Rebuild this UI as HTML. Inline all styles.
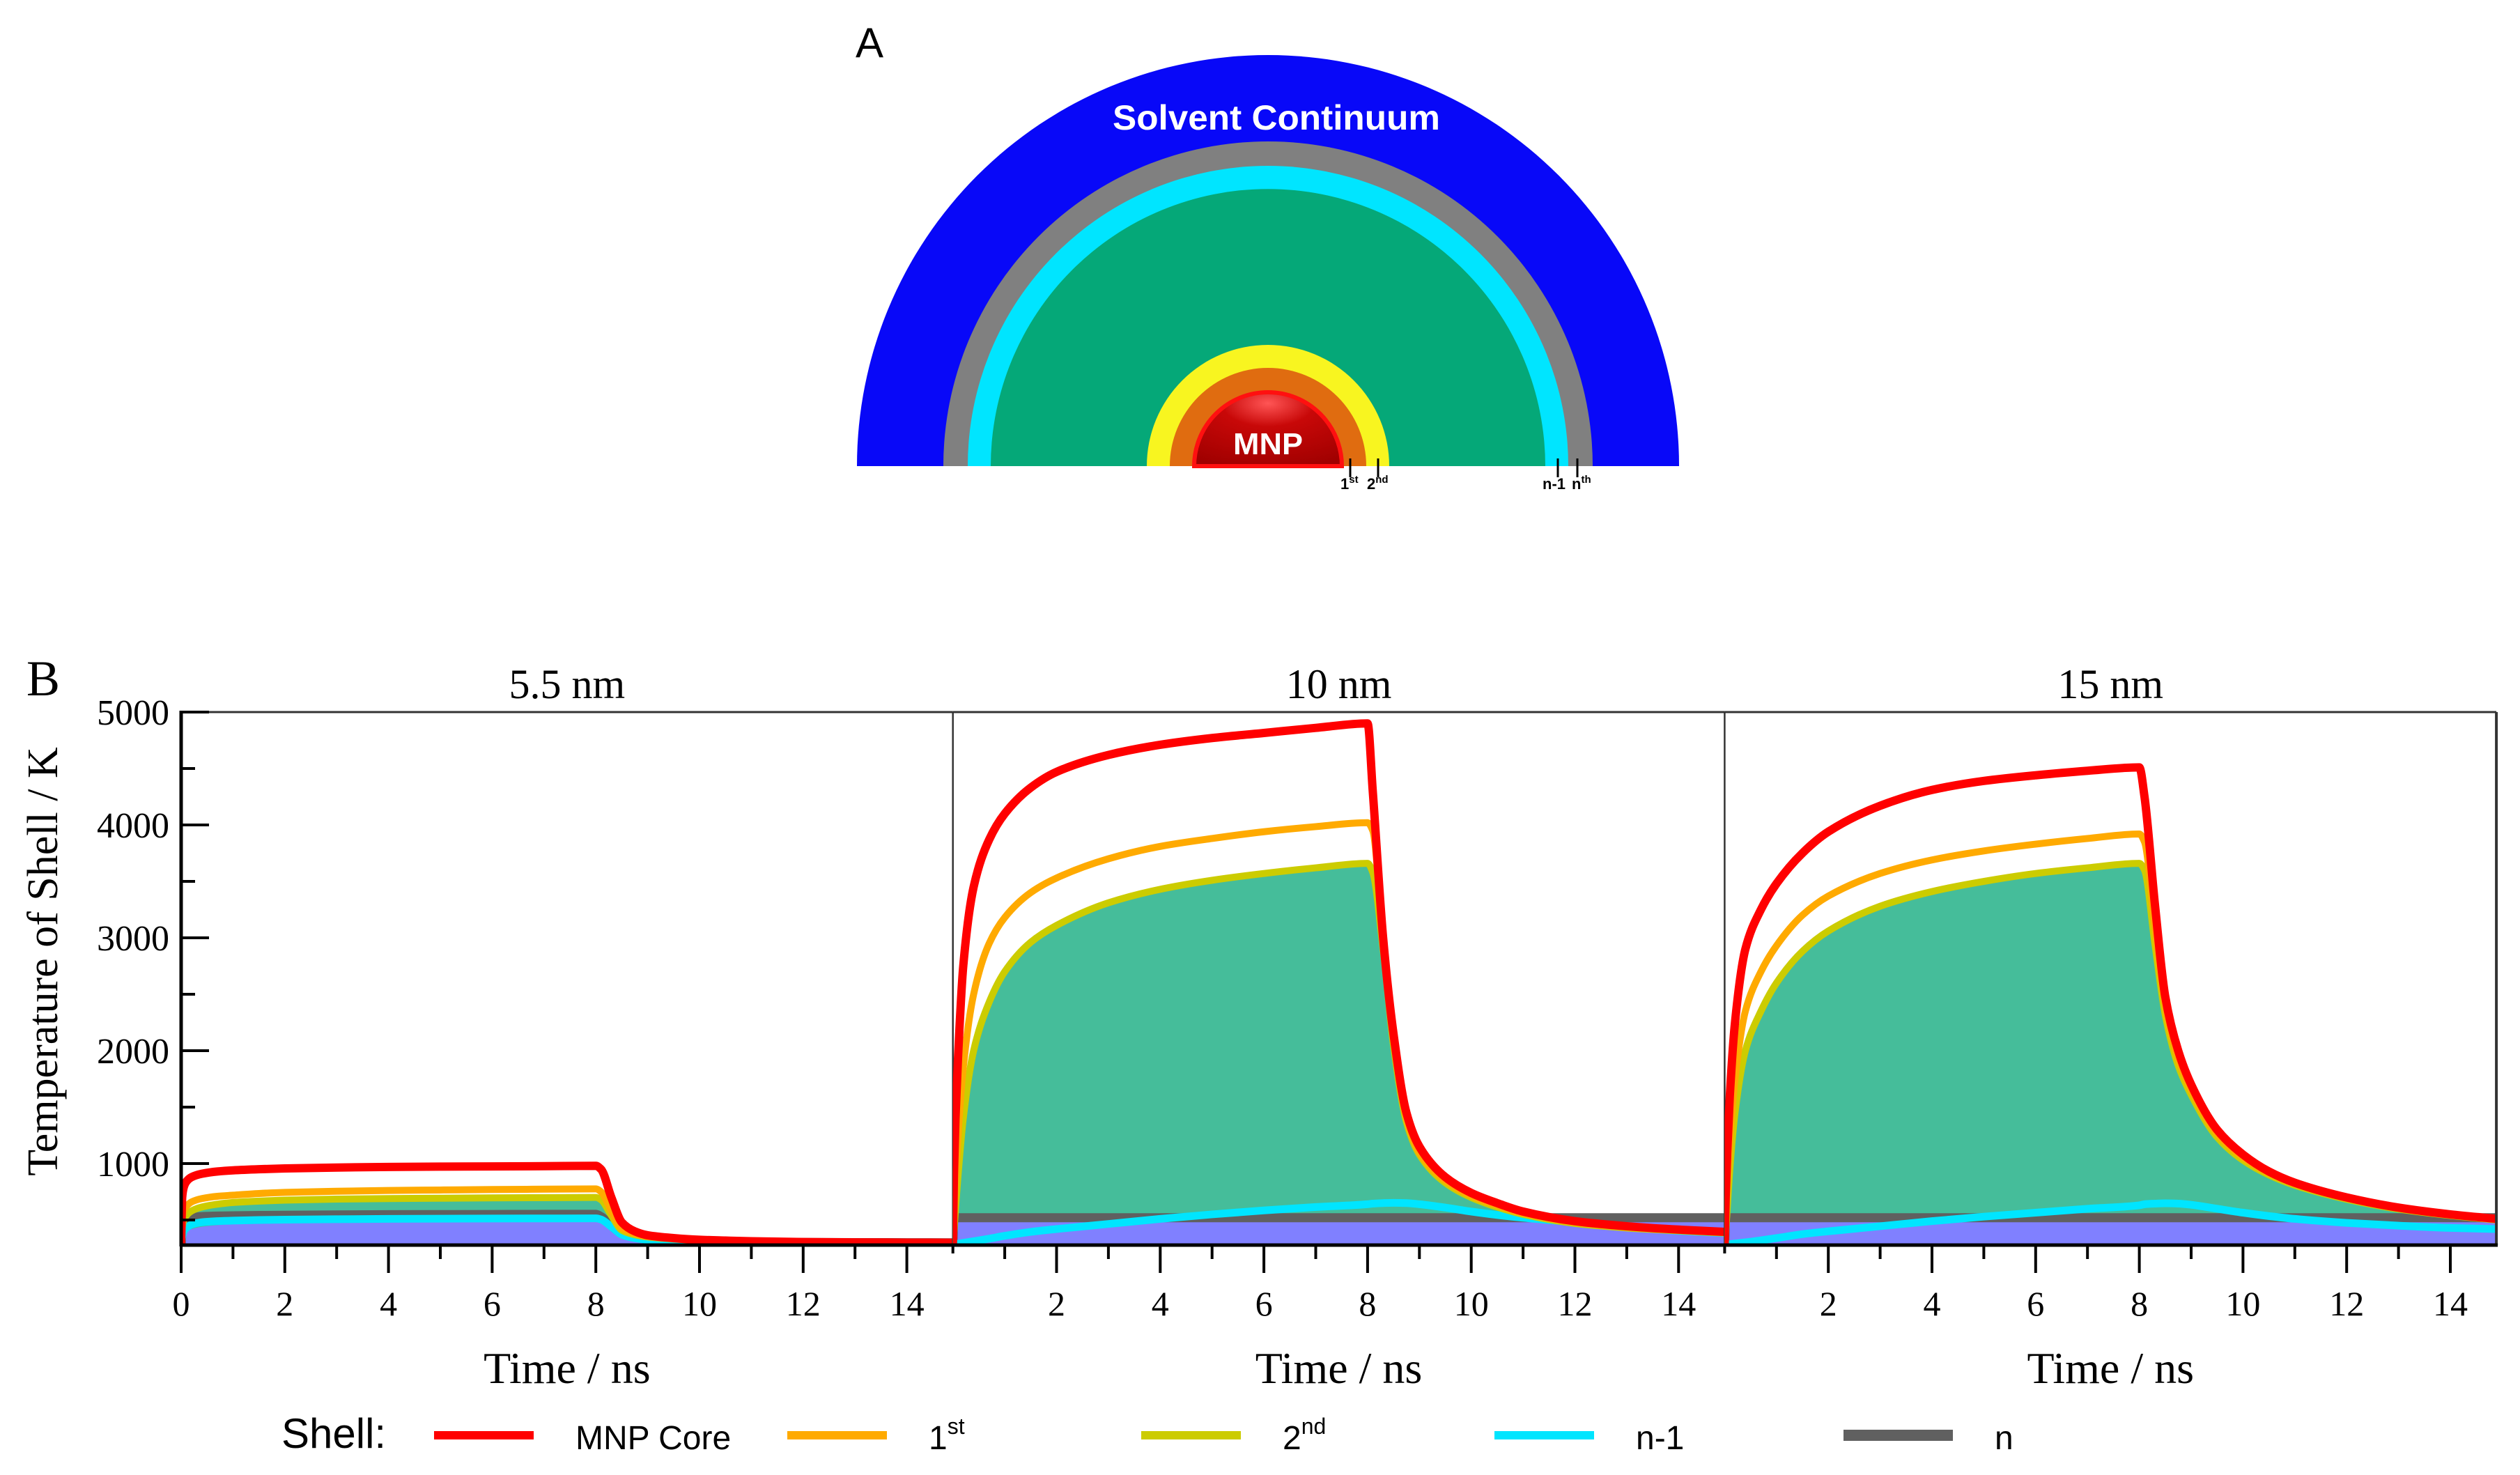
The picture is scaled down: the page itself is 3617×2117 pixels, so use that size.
<!DOCTYPE html>
<html><head><meta charset="utf-8">
<style>
html,body{margin:0;padding:0;background:#fff;}
svg{display:block;}
</style></head>
<body>
<svg id="fig" width="3617" height="2117" viewBox="0 0 3617 2117" xmlns="http://www.w3.org/2000/svg">
  <defs>
    <radialGradient id="ballGrad" cx="0.5" cy="0.15" r="0.9">
      <stop offset="0" stop-color="#ff5555"/>
      <stop offset="0.35" stop-color="#c80808"/>
      <stop offset="1" stop-color="#a00000"/>
    </radialGradient>
  </defs>
  <g id="panelA">
    <text x="1228" y="82" font-family="Liberation Sans, sans-serif" font-size="60">A</text>
    <path d="M1230,669 A590,590 0 0 1 2410,669 Z" fill="#0808f8"/>
    <path d="M1354,669 A466,466 0 0 1 2286,669 Z" fill="#808080"/>
    <path d="M1389,669 A431,431 0 0 1 2251,669 Z" fill="#00e5ff"/>
    <path d="M1422,669 A398,398 0 0 1 2218,669 Z" fill="#05a878"/>
    <path d="M1646,669 A174,174 0 0 1 1994,669 Z" fill="#f8f520"/>
    <path d="M1679,669 A141,141 0 0 1 1961,669 Z" fill="#e06c10"/>
    <path d="M1714,669 A106,106 0 0 1 1926,669 Z" fill="url(#ballGrad)" stroke="#ff1010" stroke-width="6"/>
    <text x="1832" y="186" text-anchor="middle" font-family="Liberation Sans, sans-serif" font-weight="bold" font-size="50" fill="#fff" textLength="470" lengthAdjust="spacingAndGlyphs">Solvent Continuum</text>
    <text x="1820" y="652" text-anchor="middle" font-family="Liberation Sans, sans-serif" font-weight="bold" font-size="44" fill="#fff" textLength="100" lengthAdjust="spacingAndGlyphs">MNP</text>
    <g stroke="#000" stroke-width="3">
      <line x1="1938" y1="658" x2="1938" y2="685"/>
      <line x1="1978" y1="658" x2="1978" y2="685"/>
      <line x1="2236" y1="658" x2="2236" y2="685"/>
      <line x1="2264" y1="658" x2="2264" y2="685"/>
    </g>
    <g font-family="Liberation Sans, sans-serif" font-weight="bold" font-size="22" fill="#000">
      <text x="1924" y="702">1<tspan font-size="15" dy="-9">st</tspan></text>
      <text x="1962" y="702">2<tspan font-size="15" dy="-9">nd</tspan></text>
      <text x="2214" y="702">n-1</text>
      <text x="2256" y="702">n<tspan font-size="15" dy="-9">th</tspan></text>
    </g>
  </g>
  <g id="panelB"></g>
</svg>
<script>
// ---- data ----
const times = [0,0.02,0.05,0.1,0.2,0.4,0.7,1,1.5,2,3,4,5,6,7,8,8.1,8.3,8.5,8.75,9,9.5,10,10.5,11,12,13,14,14.9];
const panelTitles = ["5.5 nm","10 nm","15 nm"];
// 5.5 nm
const core55  = [280,700,790,840,880,910,930,940,950,957,965,970,973,975,977,980,950,700,480,400,365,340,325,318,312,305,302,300,299];
const first55 = [280,500,580,620,660,690,710,720,735,745,755,762,766,770,773,776,750,580,430,380,355,335,322,316,311,305,302,300,299];
const second55= [280,430,500,540,580,615,640,655,668,676,685,690,693,696,698,700,680,540,410,370,350,332,320,315,310,304,301,300,299];
const nm1_55  = [280,350,400,430,460,480,490,495,500,503,507,510,512,513,514,515,505,440,370,340,325,315,308,305,303,301,300,299,298];
const n55     = [280,420,470,500,520,530,535,537,540,542,545,547,548,549,550,550,530,450,380,350,330,318,310,306,303,301,300,299,298];
const solv55  = [280,330,370,400,420,440,455,463,470,475,480,483,485,487,488,490,480,420,360,335,320,312,306,303,301,300,299,298,297];
// 10 nm
const core10  = [280,900,1400,1950,2750,3450,3870,4100,4330,4470,4620,4710,4770,4815,4860,4900,4300,3000,2150,1450,1150,880,740,650,575,490,445,415,395];
const first10 = [280,500,800,1250,1850,2500,2950,3180,3400,3530,3700,3810,3880,3940,3985,4020,3950,2950,2100,1400,1100,850,715,630,560,480,437,410,390];
const second10= [280,400,600,900,1400,2000,2430,2700,2960,3110,3310,3430,3510,3570,3620,3660,3580,2900,2050,1370,1080,830,700,615,550,470,430,405,385];
const nm1_10  = [280,282,285,290,298,312,335,360,395,420,465,510,550,585,615,640,645,650,652,650,640,610,575,545,520,480,440,405,385];
const n10     = [280,520,520,520,520,520,520,520,520,520,520,520,520,520,520,520,520,520,520,520,520,520,520,520,520,520,520,520,520];
const solv10  = [280,483,483,483,483,483,483,483,483,483,483,483,483,483,483,483,483,483,483,483,483,483,483,483,483,483,483,483,483];
// 15 nm
const core15  = [280,700,1100,1600,2250,2900,3250,3480,3750,3940,4170,4310,4390,4440,4480,4510,4250,3300,2480,2000,1700,1300,1080,930,830,700,610,550,510];
const first15 = [280,500,800,1200,1750,2350,2700,2930,3200,3370,3570,3690,3770,3830,3880,3920,3850,3100,2400,1930,1650,1265,1055,915,820,692,603,544,505];
const second15= [280,400,600,950,1450,2000,2350,2600,2880,3060,3280,3410,3500,3570,3620,3660,3600,2950,2320,1870,1610,1235,1030,900,808,684,597,540,500];
const nm1_15  = [280,281,283,286,292,302,320,340,375,400,445,490,530,565,600,630,640,645,648,645,635,600,565,535,510,475,450,430,420];
const n15     = [280,520,520,520,520,520,520,520,520,520,520,520,520,520,520,520,520,520,520,520,520,520,520,520,520,520,520,520,520];
const solv15  = [280,483,483,483,483,483,483,483,483,483,483,483,483,483,483,483,483,483,483,483,483,483,483,483,483,483,483,483,483];
const yTicks = [1000,2000,3000,4000,5000];
const xTickLabels = [0,2,4,6,8,10,12,14];

const panels = [
  {core:core55,first:first55,second:second55,nm1:nm1_55,n:n55,solv:solv55},
  {core:core10,first:first10,second:second10,nm1:nm1_10,n:n10,solv:solv10},
  {core:core15,first:first15,second:second15,nm1:nm1_15,n:n15,solv:solv15}
];

// ---- layout ----
const NS='http://www.w3.org/2000/svg';
const root=document.getElementById('panelB');
const P0=260, PW=1107.7, TOP=1022, BOT=1787, PXNS=74.4, YMIN=278, YMAX=5000;
const yScale=v=>BOT-(v-YMIN)/(YMAX-YMIN)*(BOT-TOP);
const xScale=(p,t)=>P0+p*PW+t*PXNS;
function mk(tag,attrs,parent){const e=document.createElementNS(NS,tag);for(const k in attrs)e.setAttribute(k,attrs[k]);(parent||root).appendChild(e);return e;}
// monotone cubic (Fritsch-Carlson) path
function linePath(p,arr){
  const xs=times.map(t=>xScale(p,t)), ys=arr.map(yScale), n=xs.length;
  const d=[],m=new Array(n);
  for(let i=0;i<n-1;i++)d.push((ys[i+1]-ys[i])/(xs[i+1]-xs[i]));
  m[0]=d[0];m[n-1]=d[n-2];
  for(let i=1;i<n-1;i++){
    if(d[i-1]*d[i]<=0)m[i]=0;
    else{const w1=2*(xs[i+1]-xs[i])+(xs[i]-xs[i-1]),w2=(xs[i+1]-xs[i])+2*(xs[i]-xs[i-1]);m[i]=(w1+w2)/(w1/d[i-1]+w2/d[i]);}
  }
  let s='M'+xs[0].toFixed(1)+','+ys[0].toFixed(1);
  for(let i=0;i<n-1;i++){
    const h=xs[i+1]-xs[i];
    s+=' C'+(xs[i]+h/3).toFixed(2)+','+(ys[i]+m[i]*h/3).toFixed(2)+' '+(xs[i+1]-h/3).toFixed(2)+','+(ys[i+1]-m[i+1]*h/3).toFixed(2)+' '+xs[i+1].toFixed(2)+','+ys[i+1].toFixed(2);
  }
  return s;
}
function areaPath(p,arr){return linePath(p,arr)+' L'+xScale(p,times[times.length-1]).toFixed(1)+','+BOT+' L'+xScale(p,0).toFixed(1)+','+BOT+' Z';}

panels.forEach((d,p)=>{
  const g=mk('g',{});
  
  
  const cp=mk('clipPath',{id:'clip'+p},g);
  mk('rect',{x:xScale(p,0),y:TOP-20,width:PW,height:BOT-TOP+20},cp);
  const inner=mk('g',{'clip-path':'url(#clip'+p+')'},g);
  let e;
  e=mk('path',{d:areaPath(p,d.second),fill:'#45bd9a'},inner);
  
  
  e=mk('path',{d:areaPath(p,d.solv),fill:'#8080ff'},inner);
  
  
  e=mk('path',{d:linePath(p,d.n),fill:'none',stroke:'#606060','stroke-width':13},inner);
  
  
  e=mk('path',{d:linePath(p,d.nm1),fill:'none',stroke:'#00e5ff','stroke-width':11},inner);
  
  
  e=mk('path',{d:linePath(p,d.second),fill:'none',stroke:'#cccc00','stroke-width':10,'stroke-linejoin':'round'},inner);
  
  
  e=mk('path',{d:linePath(p,d.first),fill:'none',stroke:'#ffaa00','stroke-width':10,'stroke-linejoin':'round'},inner);
  
  
  e=mk('path',{d:linePath(p,d.core),fill:'none',stroke:'#ff0000','stroke-width':12,'stroke-linejoin':'round'},inner);
  
  
  // frame
  const x0=xScale(p,0), x1=x0+PW;
  e=mk('line',{x1:x0,y1:TOP,x2:x1,y2:TOP,stroke:'#333','stroke-width':3},g);
  
  
  e=mk('line',{x1:x1,y1:TOP,x2:x1,y2:BOT,stroke:'#333','stroke-width':p==2?4:2.5},g);
  
  
  e=mk('line',{x1:x0-2,y1:BOT,x2:x1+2,y2:BOT,stroke:'#000','stroke-width':5},g);
  
  
  for(let t=0;t<=14;t++){
    const major=t%2===0;
    const len=(t===0&&p>0)?12:(major?40:20);
    e=mk('line',{x1:xScale(p,t),y1:BOT,x2:xScale(p,t),y2:BOT+len,stroke:'#000','stroke-width':4},g);
    
    
  }
  xTickLabels.forEach(t=>{
    if(t===0&&p>0)return;
    e=mk('text',{x:xScale(p,t),y:1888,'text-anchor':'middle','font-family':'Liberation Serif, serif','font-size':50},g);
    e.textContent=t;
    
    
  });
  e=mk('text',{x:x0+PW/2,y:1985,'text-anchor':'middle','font-family':'Liberation Serif, serif','font-size':64},g);
  e.textContent='Time / ns';
  
  
  e=mk('text',{x:x0+PW/2,y:1002,'text-anchor':'middle','font-family':'Liberation Serif, serif','font-size':60},g);
  e.textContent=panelTitles[p];
  
  
});
// y axis
let ya=mk('line',{x1:P0,y1:TOP-2,x2:P0,y2:BOT+2,stroke:'#000','stroke-width':5});


for(let v=500;v<=5000;v+=500){
  const major=v%1000===0;
  const e=mk('line',{x1:P0,y1:yScale(v),x2:P0+(major?40:20),y2:yScale(v),stroke:'#000','stroke-width':4});
  
  
}
yTicks.forEach(v=>{
  const e=mk('text',{x:243,y:yScale(v)+18,'text-anchor':'end','font-family':'Liberation Serif, serif','font-size':52});
  e.textContent=v;
  
  
});
let yt=mk('text',{x:0,y:0,'text-anchor':'middle','font-family':'Liberation Serif, serif','font-size':62,transform:'translate(82,1380) rotate(-90)'});
yt.textContent='Temperature of Shell / K';


let bl=mk('text',{x:38,y:998,'font-family':'Liberation Serif, serif','font-size':72});
bl.textContent='B';



// legend
const lg=mk('g',{});


let st=mk('text',{x:404,y:2078,'font-family':'Liberation Sans, sans-serif','font-size':60},lg);
st.textContent='Shell:';


const legendLabels=['MNP Core','1','2','n-1','n'];
const legendSup=['','st','nd','',''];
const legendColors=['#ff0000','#ffaa00','#cccc00','#00e5ff','#606060'];
const legendX=[623,1130,1638,2145,2646];
const legendW=[143,143,143,143,157];
legendLabels.forEach((lab,i)=>{
  const eg=mk('g',{},lg);
  
  
  const l=mk('line',{x1:legendX[i],y1:2060,x2:legendX[i]+legendW[i],y2:2060,stroke:legendColors[i],'stroke-width':i==4?16:12},eg);
  
  
  const t=mk('text',{x:legendX[i]+legendW[i]+60,y:2080,'font-family':'Liberation Sans, sans-serif','font-size':48},eg);
  t.textContent=lab;
  if(legendSup[i]){const s=mk('tspan',{'font-size':32,dy:-22},t);s.textContent=legendSup[i];}
  
  
});
</script>
</body></html>
